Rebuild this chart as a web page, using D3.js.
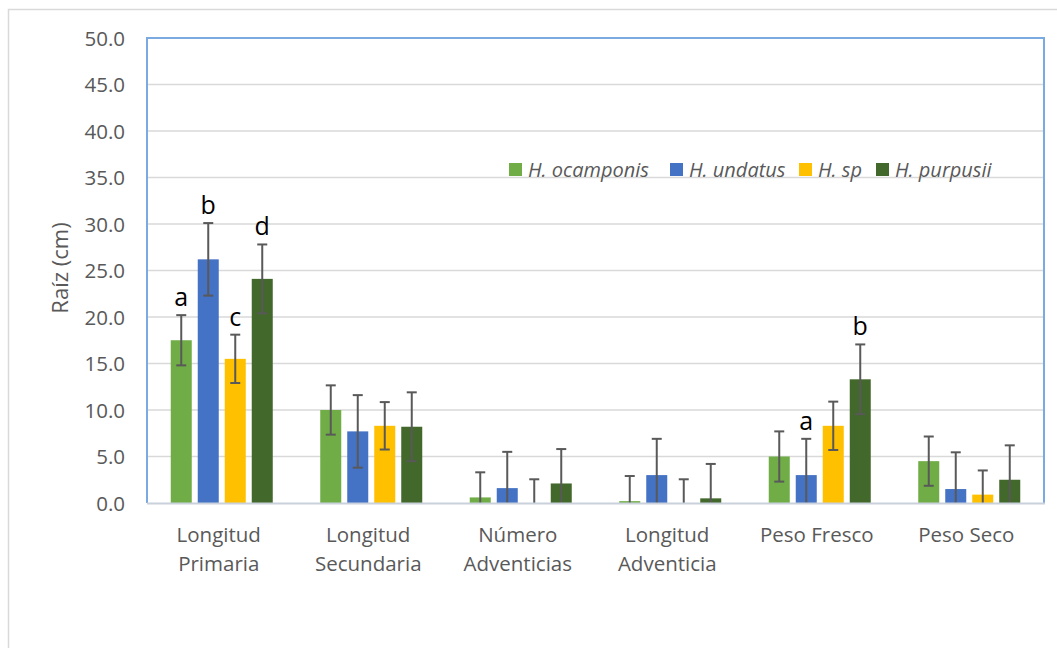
<!DOCTYPE html>
<html><head><meta charset="utf-8">
<script src="https://cdn.jsdelivr.net/npm/d3@7/dist/d3.min.js"></script>
<style>body{margin:0;background:#fff}svg{display:block}</style>
</head><body><svg id="c" width="1057" height="648"></svg>
<script>
const categories = [["Longitud","Primaria"],["Longitud","Secundaria"],["Número","Adventicias"],["Longitud","Adventicia"],["Peso Fresco"],["Peso Seco"]];
const seriesNames = ["H. ocamponis","H. undatus","H. sp","H. purpusii"];
const seriesColors = ["#70ad47","#4472c4","#ffc000","#43682b"];
const ocamponis = [17.5, 10.0, 0.6, 0.2, 5.0, 4.5];
const undatus   = [26.2, 7.7, 1.6, 3.0, 3.0, 1.5];
const sp        = [15.5, 8.3, 0.0, 0.0, 8.3, 0.9];
const purpusii  = [24.1, 8.2, 2.1, 0.5, 13.3, 2.5];
const errOcamponis = [2.7, 2.65, 2.7, 2.7, 2.7, 2.65];
const errUndatus   = [3.9, 3.9, 3.9, 3.9, 3.9, 3.95];
const errSp        = [2.6, 2.55, 2.55, 2.55, 2.6, 2.6];
const errPurpusii  = [3.7, 3.7, 3.7, 3.7, 3.75, 3.7];
const yTicks = [0,5,10,15,20,25,30,35,40,45,50];
// letter annotations: [category index, series index, text]
const letters = [[0,0,"a"],[0,1,"b"],[0,2,"c"],[0,3,"d"],[4,1,"a"],[4,3,"b"]];

const values = [ocamponis, undatus, sp, purpusii];
const errs = [errOcamponis, errUndatus, errSp, errPurpusii];

const svg = d3.select("#c");
const L = 147, R = 1044, T = 38, B = 503;
const font = "'Open Sans', 'Noto Sans', sans-serif";

svg.append("rect").attr("x",8.5).attr("y",9.5).attr("width",1100).attr("height",700)
  .attr("fill","#fff").attr("stroke","#d9d9d9").attr("stroke-width",1.5);

const y = d3.scaleLinear().domain([0,50]).range([B,T]);
const x0 = d3.scaleBand().domain(d3.range(categories.length)).range([L,R]).paddingInner(0).paddingOuter(0);
const step = 27, bw = 21;

// gridlines
svg.append("g").selectAll("line").data(yTicks.filter(d=>d>0)).join("line")
  .attr("x1",L).attr("x2",R).attr("y1",d=>y(d)).attr("y2",d=>y(d))
  .attr("stroke","#d9d9d9").attr("stroke-width",1.5);

// y tick labels via axis
const yAxis = d3.axisLeft(y).tickValues(yTicks).tickFormat(d3.format(".1f")).tickSize(0).tickPadding(0);
const ga = svg.append("g").attr("transform",`translate(125,0)`).call(yAxis);
ga.select(".domain").remove();
ga.selectAll("text").attr("font-family",font).attr("font-size",20.5).attr("fill","#595959").attr("dy","0.35em");

// axis title
svg.append("text").attr("transform",`translate(60,268) rotate(-90)`).attr("text-anchor","middle")
  .attr("dy","0.35em").attr("font-family",font).attr("font-size",22).attr("fill","#595959").text("Raíz (cm)");

// bars
const bx = (c,s) => x0(c) + x0.bandwidth()/2 + (s-1.5)*step - bw/2;
values.forEach((vals,s)=>{
  svg.append("g").selectAll("rect").data(vals).join("rect")
    .attr("x",(d,c)=>bx(c,s)).attr("width",bw)
    .attr("y",d=>y(d)).attr("height",d=>B-y(d))
    .attr("fill",seriesColors[s]);
});

// error bars
values.forEach((vals,s)=>{
  const g = svg.append("g").attr("stroke","#595959").attr("stroke-width",2);
  vals.forEach((v,c)=>{
    const cx = bx(c,s)+bw/2;
    const top = y(v+errs[s][c]);
    const bot = y(Math.max(0,v-errs[s][c]));
    g.append("line").attr("x1",cx).attr("x2",cx).attr("y1",top).attr("y2",bot);
    g.append("line").attr("x1",cx-5).attr("x2",cx+5).attr("y1",top).attr("y2",top);
    if (v-errs[s][c] > 0) g.append("line").attr("x1",cx-5).attr("x2",cx+5).attr("y1",bot).attr("y2",bot);
  });
});

// plot border
svg.append("path").attr("d",`M${L},${B}V${T}H${R}V${B}`).attr("fill","none").attr("stroke","#7aaae0").attr("stroke-width",2);
svg.append("line").attr("x1",L).attr("x2",R+1).attr("y1",B+0.5).attr("y2",B+0.5).attr("stroke","#c9d2dc").attr("stroke-width",2);

// letters
letters.forEach(([c,s,t])=>{
  const cx = bx(c,s)+bw/2;
  const top = y(values[s][c]+errs[s][c]);
  svg.append("text").attr("x",cx).attr("y",top-9).attr("text-anchor","middle")
    .attr("font-family",font).attr("font-size",25).attr("fill","#000").text(t);
});

// category labels
categories.forEach((lines,c)=>{
  const cx = x0(c)+x0.bandwidth()/2-3;
  const t = svg.append("text").attr("x",cx).attr("y",542).attr("text-anchor","middle")
    .attr("font-family",font).attr("font-size",20.5).attr("fill","#595959");
  lines.forEach((ln,i)=>t.append("tspan").attr("x",cx).attr("dy",i?29:0).text(ln));
});

// legend
const legX = [509, 670, 799, 876];
seriesNames.forEach((n,s)=>{
  svg.append("rect").attr("x",legX[s]).attr("y",163).attr("width",13).attr("height",13).attr("fill",seriesColors[s]);
  svg.append("text").attr("x",legX[s]+19).attr("y",170).attr("dy","0.35em")
    .attr("font-family",font).attr("font-style","italic").attr("font-size",20).attr("fill","#595959").text(n);
});
</script></body></html>
